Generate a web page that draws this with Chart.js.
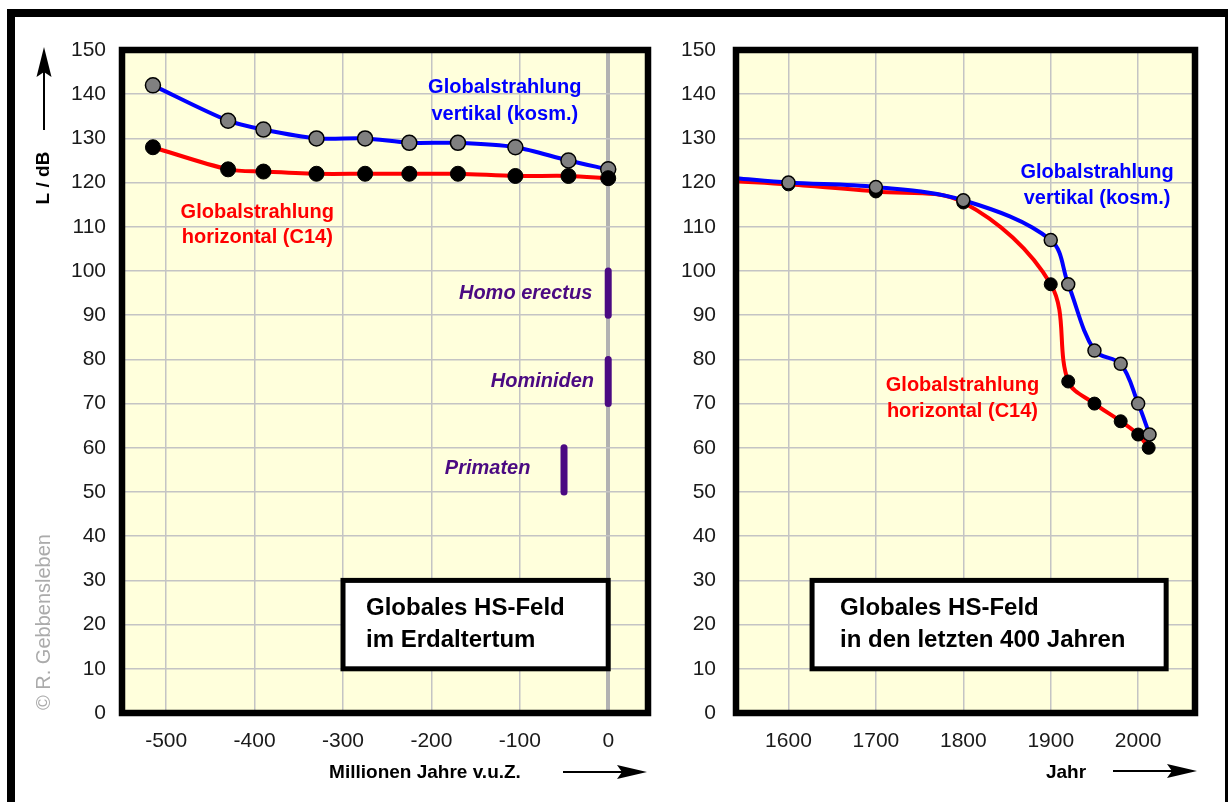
<!DOCTYPE html>
<html>
<head>
<meta charset="utf-8">
<script src="https://cdn.jsdelivr.net/npm/chart.js@4.4.1/dist/chart.umd.min.js"></script>
<style>
    body { margin: 0; background: #fff; }
    #wrap { position: relative; width: 1228px; height: 802px; overflow: hidden; background: #fff; }
    #frame { position: absolute; left: 7px; top: 9px; width: 1226px; height: 840px; border: 8px solid #000; box-sizing: border-box; }
    canvas { position: absolute; top: 0; }
    #left { left: 0; }
    #right { left: 660px; }
</style>
</head>
<body>
<div id="wrap">
    <div id="frame"></div>
    <canvas id="left" width="660" height="802"></canvas>
    <canvas id="right" width="568" height="802"></canvas>
</div>
<script>
// --- left chart: Erdaltertum (million years) ---
const ageTicks = [-500, -400, -300, -200, -100, 0];
const ageOld = [-515, -430, -390, -330, -275, -225, -170, -105, -45, 0];
const vertOld = [142, 134, 132, 130, 130, 129, 129, 128, 125, 123];
const horizOld = [128, 123, 122.5, 122, 122, 122, 122, 121.5, 121.5, 121];

// vertical bars for human evolution (x position, from / to in dB)
const erectusAge = 0, erectusRange = [90, 100];
const hominidAge = 0, hominidRange = [70, 80];
const primateAge = -50, primateRange = [50, 60];

// --- right chart: last 400 years ---
const yearTicks = [1600, 1700, 1800, 1900, 2000];
const yearsVert = [1540, 1600, 1700, 1800, 1900, 1920, 1950, 1980, 2000, 2013];
const vertNew = [121, 120, 119, 116, 107, 97, 82, 79, 70, 63];
const yearsHoriz = [1540, 1600, 1700, 1800, 1900, 1920, 1950, 1980, 2000, 2012];
const horizNew = [120.3, 119.6, 118, 115.5, 97, 75, 70, 66, 63, 60];

const PLOT_BG = '#ffffdc';
const BLUE = '#0000ff';
const RED = '#ff0000';
const PURPLE = '#4b0a82';
const FONT = "'Liberation Sans', Arial, sans-serif";

function pts(xs, ys) {
    return xs.map((x, i) => ({ x: x, y: ys[i] }));
}

function px(chart, x, y) {
    return [chart.scales.x.getPixelForValue(x), chart.scales.y.getPixelForValue(y)];
}

function textAt(ctx, s, x, y, font, color, align) {
    ctx.save();
    ctx.font = font;
    ctx.fillStyle = color;
    ctx.textAlign = align || 'center';
    ctx.textBaseline = 'middle';
    ctx.fillText(s, x, y);
    ctx.restore();
}

function arrowRight(ctx, x0, x1, y) {
    ctx.save();
    ctx.strokeStyle = '#000';
    ctx.fillStyle = '#000';
    ctx.lineWidth = 2;
    ctx.beginPath();
    ctx.moveTo(x0, y);
    ctx.lineTo(x1 - 25, y);
    ctx.stroke();
    ctx.beginPath();
    ctx.moveTo(x1, y);
    ctx.lineTo(x1 - 30, y - 7);
    ctx.lineTo(x1 - 25, y);
    ctx.lineTo(x1 - 30, y + 7);
    ctx.closePath();
    ctx.fill();
    ctx.restore();
}

function textBox(chart, x0, x1, y0, y1, lines, padX) {
    const ctx = chart.ctx;
    const [l, t] = px(chart, x0, y1);
    const [r, b] = px(chart, x1, y0);
    ctx.save();
    ctx.fillStyle = '#fff';
    ctx.fillRect(l, t, r - l, b - t);
    ctx.strokeStyle = '#000';
    ctx.lineWidth = 5;
    ctx.strokeRect(l, t, r - l, b - t);
    ctx.restore();
    lines.forEach((s, i) => textAt(ctx, s, l + padX, t + 28 + i * 32, 'bold 24px ' + FONT, '#000', 'left'));
}

function plotBg(chart) {
    const { ctx, chartArea: a } = chart;
    ctx.save();
    ctx.fillStyle = PLOT_BG;
    ctx.fillRect(a.left, a.top, a.right - a.left, a.bottom - a.top);
    ctx.restore();
}

function plotBorder(chart) {
    const { ctx, chartArea: a } = chart;
    ctx.save();
    ctx.strokeStyle = '#000';
    ctx.lineWidth = 6.5;
    ctx.strokeRect(a.left, a.top, a.right - a.left, a.bottom - a.top);
    ctx.restore();
}

const leftDecor = {
    id: 'leftDecor',
    beforeDraw(chart) {
        plotBg(chart);
    },
    afterDraw(chart) {
        const ctx = chart.ctx;
        plotBorder(chart);
        textBox(chart, -300, 0, 10, 30, ['Globales HS-Feld', 'im Erdaltertum'], 23);

        const lab = 'bold 20px ' + FONT;
        let p = px(chart, -117, 141.6);
        textAt(ctx, 'Globalstrahlung', p[0], p[1], lab, BLUE);
        p = px(chart, -117, 135.3);
        textAt(ctx, 'vertikal (kosm.)', p[0], p[1], lab, BLUE);
        p = px(chart, -397, 113.3);
        textAt(ctx, 'Globalstrahlung', p[0], p[1], lab, RED);
        p = px(chart, -397, 107.5);
        textAt(ctx, 'horizontal (C14)', p[0], p[1], lab, RED);

        const it = 'italic bold 20px ' + FONT;
        p = px(chart, -18, 95);
        textAt(ctx, 'Homo erectus', p[0], p[1], it, PURPLE, 'right');
        p = px(chart, -16, 75);
        textAt(ctx, 'Hominiden', p[0], p[1], it, PURPLE, 'right');
        p = px(chart, -88, 55.3);
        textAt(ctx, 'Primaten', p[0], p[1], it, PURPLE, 'right');

        // y axis title with arrow
        ctx.save();
        ctx.translate(44, 178);
        ctx.rotate(-Math.PI / 2);
        textAt(ctx, 'L / dB', 0, 0, 'bold 19px ' + FONT, '#000');
        ctx.restore();
        ctx.save();
        ctx.strokeStyle = '#000';
        ctx.fillStyle = '#000';
        ctx.lineWidth = 2;
        ctx.beginPath();
        ctx.moveTo(44, 130);
        ctx.lineTo(44, 72);
        ctx.stroke();
        ctx.beginPath();
        ctx.moveTo(44, 47);
        ctx.lineTo(36.5, 77);
        ctx.lineTo(44, 72);
        ctx.lineTo(51.5, 77);
        ctx.closePath();
        ctx.fill();
        ctx.restore();

        // copyright
        ctx.save();
        ctx.translate(44, 622);
        ctx.rotate(-Math.PI / 2);
        textAt(ctx, '© R. Gebbensleben', 0, 0, '20px ' + FONT, '#ababab');
        ctx.restore();

        textAt(ctx, 'Millionen Jahre v.u.Z.', 425, 773, 'bold 19px ' + FONT, '#000');
        arrowRight(ctx, 563, 647, 772);
    }
};

const rightDecor = {
    id: 'rightDecor',
    beforeDraw(chart) {
        plotBg(chart);
    },
    afterDraw(chart) {
        const ctx = chart.ctx;
        plotBorder(chart);
        textBox(chart, 1627, 2032, 10, 30, ['Globales HS-Feld', 'in den letzten 400 Jahren'], 28);

        const lab = 'bold 20px ' + FONT;
        let p = px(chart, 1953, 122.4);
        textAt(ctx, 'Globalstrahlung', p[0], p[1], lab, BLUE);
        p = px(chart, 1953, 116.3);
        textAt(ctx, 'vertikal (kosm.)', p[0], p[1], lab, BLUE);
        p = px(chart, 1799, 74.2);
        textAt(ctx, 'Globalstrahlung', p[0], p[1], lab, RED);
        p = px(chart, 1799, 68.3);
        textAt(ctx, 'horizontal (C14)', p[0], p[1], lab, RED);

        textAt(ctx, 'Jahr', 406, 773, 'bold 19px ' + FONT, '#000');
        arrowRight(ctx, 453, 537, 771);
    }
};

function gridOpts(special) {
    return {
        drawTicks: false,
        color: (c) => (special !== undefined && c.tick && c.tick.value === special ? '#b2b2b2' : '#c4c4c4'),
        lineWidth: (c) => (special !== undefined && c.tick && c.tick.value === special ? 4 : 1.5)
    };
}

const tickFont = { family: FONT, size: 21 };

function barSet(label, x, range) {
    return {
        label: label,
        data: [{ x: x, y: range[0] }, { x: x, y: range[1] }],
        borderColor: PURPLE,
        borderWidth: 7,
        borderCapStyle: 'round',
        pointRadius: 0
    };
}

new Chart(document.getElementById('left'), {
    type: 'line',
    data: {
        datasets: [
            {
                label: 'Globalstrahlung horizontal (C14)',
                data: pts(ageOld, horizOld),
                borderColor: RED,
                borderWidth: 4,
                tension: 0.3,
                pointRadius: 7.5,
                pointBackgroundColor: '#000',
                pointBorderColor: '#000',
                pointBorderWidth: 1
            },
            {
                label: 'Globalstrahlung vertikal (kosm.)',
                data: pts(ageOld, vertOld),
                borderColor: BLUE,
                borderWidth: 4,
                tension: 0.3,
                pointRadius: 7.5,
                pointBackgroundColor: '#808080',
                pointBorderColor: '#000',
                pointBorderWidth: 1.5
            },
            barSet('Homo erectus', erectusAge, erectusRange),
            barSet('Hominiden', hominidAge, hominidRange),
            barSet('Primaten', primateAge, primateRange)
        ]
    },
    options: {
        responsive: false,
        animation: false,
        layout: { padding: { left: 62, right: 12, top: 50, bottom: 49 } },
        plugins: { legend: { display: false }, tooltip: { enabled: false } },
        scales: {
            x: {
                type: 'linear',
                min: -550,
                max: 45,
                afterFit: (s) => { s.height = 40; },
                afterBuildTicks: (s) => { s.ticks = ageTicks.map((v) => ({ value: v })); },
                ticks: { padding: 16, font: tickFont, color: '#1a1a1a', callback: (v) => String(v) },
                grid: gridOpts(0),
                border: { display: false }
            },
            y: {
                min: 0,
                max: 150,
                afterFit: (s) => { s.width = 60; },
                ticks: { stepSize: 10, padding: 16, font: tickFont, color: '#1a1a1a', callback: (v) => String(v) },
                grid: gridOpts(),
                border: { display: false }
            }
        }
    },
    plugins: [leftDecor]
});

new Chart(document.getElementById('right'), {
    type: 'line',
    data: {
        datasets: [
            {
                label: 'Globalstrahlung vertikal (kosm.)',
                data: pts(yearsVert, vertNew),
                borderColor: BLUE,
                borderWidth: 4,
                tension: 0.35,
                pointRadius: (c) => (c.dataIndex === 0 ? 0 : 6.5),
                pointBackgroundColor: '#808080',
                pointBorderColor: '#000',
                pointBorderWidth: 1.5
            },
            {
                label: 'Globalstrahlung horizontal (C14)',
                data: pts(yearsHoriz, horizNew),
                borderColor: RED,
                borderWidth: 4,
                tension: 0.35,
                pointRadius: (c) => (c.dataIndex === 0 ? 0 : 6.5),
                pointBackgroundColor: '#000',
                pointBorderColor: '#000',
                pointBorderWidth: 1
            }
        ]
    },
    options: {
        responsive: false,
        animation: false,
        layout: { padding: { left: 16, right: 33, top: 50, bottom: 49 } },
        plugins: { legend: { display: false }, tooltip: { enabled: false } },
        scales: {
            x: {
                type: 'linear',
                min: 1540,
                max: 2065,
                afterFit: (s) => { s.height = 40; },
                afterBuildTicks: (s) => { s.ticks = yearTicks.map((v) => ({ value: v })); },
                ticks: { padding: 16, font: tickFont, color: '#1a1a1a', callback: (v) => String(v) },
                grid: gridOpts(),
                border: { display: false }
            },
            y: {
                min: 0,
                max: 150,
                afterFit: (s) => { s.width = 60; },
                ticks: { stepSize: 10, padding: 20, font: tickFont, color: '#1a1a1a', callback: (v) => String(v) },
                grid: gridOpts(),
                border: { display: false }
            }
        }
    },
    plugins: [rightDecor]
});
</script>
</body>
</html>
